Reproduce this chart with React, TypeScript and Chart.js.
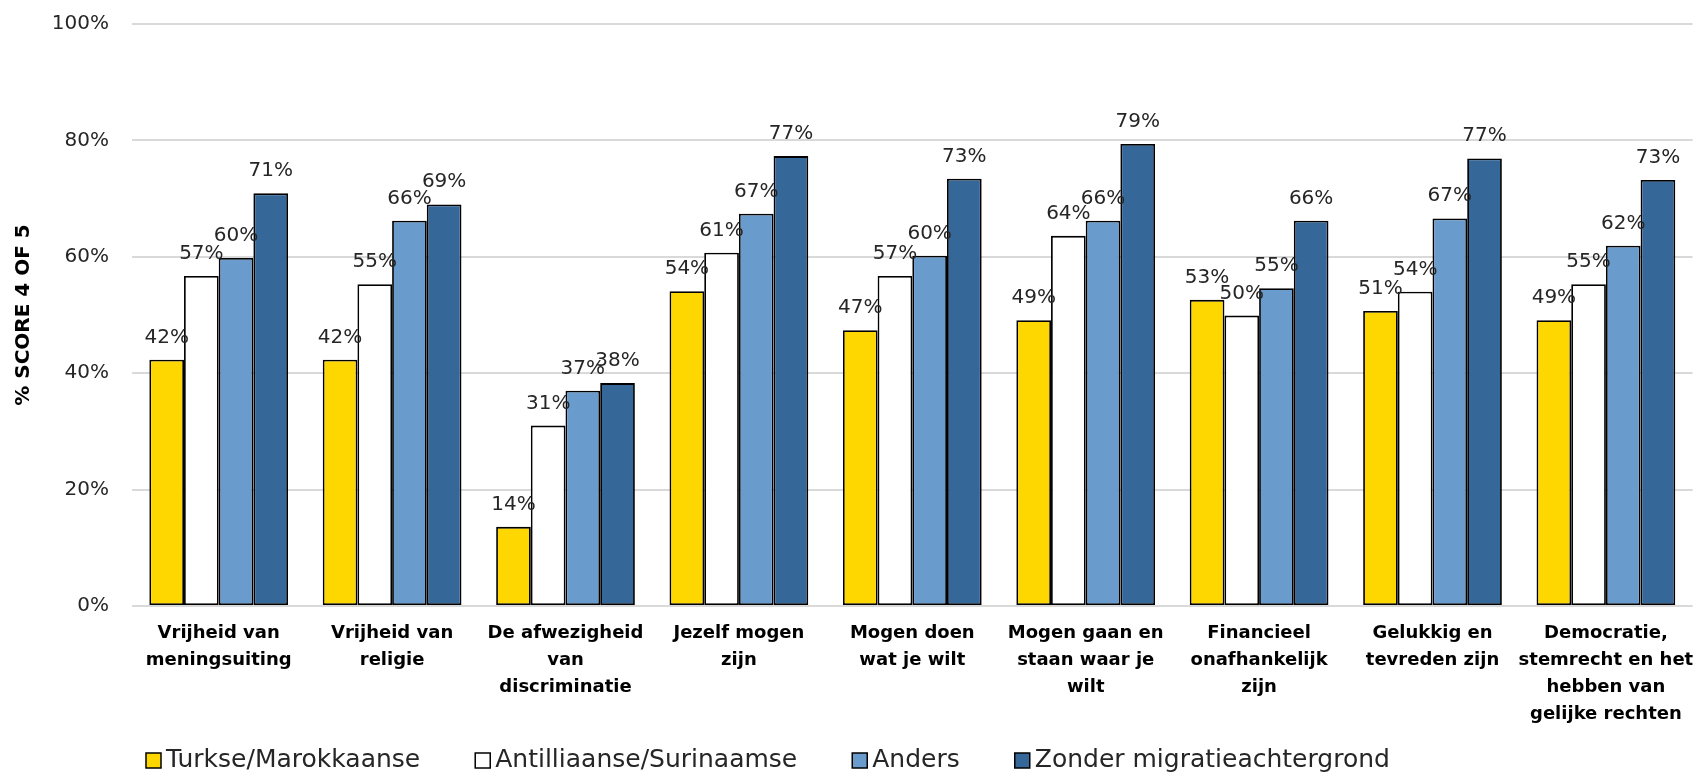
import React, { useEffect, useRef } from "react";
import { Chart, registerables } from "chart.js";

Chart.register(...registerables);

const categories: string[][] = [
  ["Vrijheid van", "meningsuiting"],
  ["Vrijheid van", "religie"],
  ["De afwezigheid", "van", "discriminatie"],
  ["Jezelf mogen", "zijn"],
  ["Mogen doen", "wat je wilt"],
  ["Mogen gaan en", "staan waar je", "wilt"],
  ["Financieel", "onafhankelijk", "zijn"],
  ["Gelukkig en", "tevreden zijn"],
  ["Democratie,", "stemrecht en het", "hebben van", "gelijke rechten"],
];

const seriesNames = [
  "Turkse/Marokkaanse",
  "Antilliaanse/Surinaamse",
  "Anders",
  "Zonder migratieachtergrond",
];

const turkseMarokkaanse = [42.3, 42.3, 13.6, 54.1, 47.4, 49.1, 52.6, 50.7, 49.1];
const antilliaanseSurinaamse = [56.7, 55.3, 31.0, 60.7, 56.7, 63.6, 49.9, 54.0, 55.3];
const anders = [59.8, 66.2, 37.0, 67.4, 60.2, 66.2, 54.6, 66.6, 61.9];
const zonderMigratie = [70.9, 69.0, 38.3, 77.3, 73.4, 79.4, 66.2, 76.9, 73.2];

const yTicks = [0, 20, 40, 60, 80, 100];

const colors = ["#FFD700", "#FFFFFF", "#699BCD", "#356799"];

const FONT = "'DejaVu Sans', sans-serif";

const dataLabelPlugin = {
  id: "dataLabels",
  afterDatasetsDraw(chart: any) {
    const ctx = chart.ctx;
    ctx.save();
    ctx.font = `20px ${FONT}`;
    ctx.fillStyle = "#262626";
    ctx.textAlign = "center";
    ctx.textBaseline = "alphabetic";
    chart.data.datasets.forEach((ds: any, i: number) => {
      const meta = chart.getDatasetMeta(i);
      meta.data.forEach((el: any, j: number) => {
        const v = ds.data[j];
        ctx.fillText(`${Math.round(v)}%`, el.x, el.y - 17);
      });
    });
    ctx.restore();
  },
};

const legendPlugin = {
  id: "customLegend",
  afterDraw(chart: any) {
    const ctx = chart.ctx;
    ctx.save();
    ctx.font = `25px ${FONT}`;
    ctx.textBaseline = "alphabetic";
    ctx.textAlign = "left";
    let x = 146;
    const boxTop = 753;
    const box = 15;
    chart.data.datasets.forEach((ds: any) => {
      ctx.fillStyle = ds.backgroundColor;
      ctx.fillRect(x, boxTop, box, box);
      ctx.strokeStyle = "#000";
      ctx.lineWidth = 1.5;
      ctx.strokeRect(x, boxTop, box, box);
      ctx.fillStyle = "#262626";
      ctx.fillText(ds.label, x + box + 5, 767);
      x += box + 5 + ctx.measureText(ds.label).width + 55;
    });
    ctx.restore();
  },
};

export default function App() {
  const ref = useRef<HTMLCanvasElement>(null);
  useEffect(() => {
    document.body.style.margin = "0";
    const series = [turkseMarokkaanse, antilliaanseSurinaamse, anders, zonderMigratie];
    const chart = new Chart(ref.current!, {
      type: "bar",
      data: {
        labels: categories,
        datasets: series.map((d, i) => ({
          label: seriesNames[i],
          data: d,
          backgroundColor: colors[i],
          borderColor: "#000000",
          borderWidth: 1.8,
          borderSkipped: false,
          categoryPercentage: 0.8,
          barPercentage: 1,
        })),
      },
      options: {
        responsive: false,
        animation: false,
        layout: { padding: { top: 0, right: 5, bottom: 40, left: 0 } },
        plugins: {
          legend: { display: false },
          tooltip: { enabled: false },
        },
        scales: {
          x: {
            afterFit: (s: any) => {
              s.height = 126;
            },
            grid: { display: false, drawTicks: false },
            border: { display: false },
            ticks: {
              color: "#000000",
              font: { family: FONT, size: 18, weight: "bold", lineHeight: "27px" },
              padding: 13.5,
              maxRotation: 0,
              autoSkip: false,
            },
          },
          y: {
            min: 0,
            max: 100,
            afterFit: (s: any) => {
              s.width = 132;
            },
            afterBuildTicks: (s: any) => {
              s.ticks = yTicks.map((v) => ({ value: v }));
            },
            grid: {
              color: "#D9D9D9",
              lineWidth: 2,
              drawTicks: true,
              tickLength: 11,
              tickColor: "rgba(0,0,0,0)",
            },
            border: { display: false },
            ticks: {
              color: "#262626",
              font: { family: FONT, size: 20 },
              padding: 12,
              callback: (v: any) => `${v}%`,
            },
            title: {
              display: true,
              text: "% SCORE 4 OF 5",
              color: "#000000",
              font: { family: FONT, size: 20, weight: "bold" },
              padding: { top: 12, bottom: 0 },
            },
          },
        },
      },
      plugins: [dataLabelPlugin, legendPlugin],
    });
    return () => chart.destroy();
  }, []);
  return (
    <div style={{ width: 1707, height: 772 }}>
      <canvas ref={ref} width={1707} height={772} />
    </div>
  );
}
